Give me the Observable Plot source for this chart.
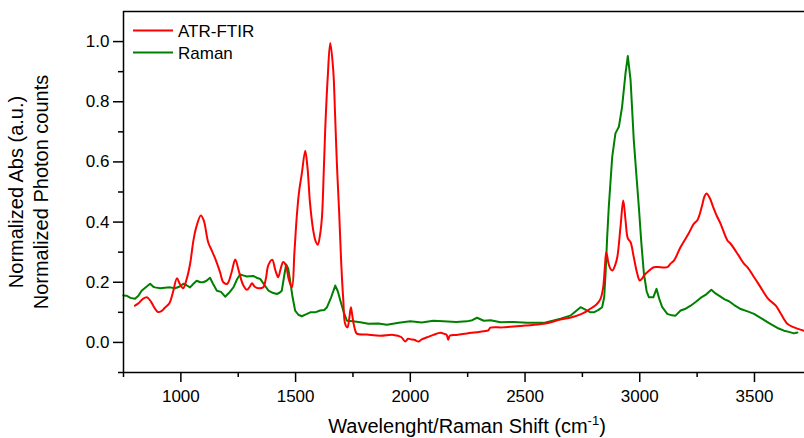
<!DOCTYPE html>
<html>
<head>
<meta charset="utf-8">
<script src="https://cdn.jsdelivr.net/npm/d3@7"></script>
<script src="https://cdn.jsdelivr.net/npm/@observablehq/plot@0.6"></script>
<style>
  html, body { margin: 0; padding: 0; background: #fff; }
  #chart svg { display: block; }
</style>
</head>
<body>
<div id="chart"></div>
<script>
const seriesNames = ["ATR-FTIR", "Raman"];
const seriesColors = ["#ff0000", "#008000"];

const ftirX = [800,815,835,852,870,885,900,915,930,950,965,983,995,1010,1025,1040,1055,1066,1087,1100,1119,1135,1149,1171,1185,1202,1220,1237,1250,1258,1272,1288,1300,1310,1322,1340,1359,1370,1381,1398,1412,1424,1435,1446,1458,1470,1484,1495,1505,1515,1527,1542,1552,1563,1577,1588,1597,1607,1615,1622,1629,1640,1651,1664,1672,1680,1690,1699,1708,1716,1726,1734,1741,1747,1753,1760,1767,1811,1869,1926,1960,1978,1990,2005,2020,2035,2050,2073,2100,2131,2150,2158,2165,2172,2200,2247,2290,2320,2340,2349,2400,2436,2500,2581,2655,2700,2727,2760,2785,2810,2829,2840,2848,2854,2864,2872,2881,2892,2902,2916,2928,2938,2948,2960,2974,2989,3000,3010,3018,3040,3061,3090,3120,3134,3149,3178,3213,3236,3251,3270,3282,3291,3305,3320,3338,3352,3382,3396,3430,3454,3469,3500,3527,3560,3593,3615,3643,3672,3690,3716];
const ftirY = [0.122,0.13,0.145,0.15,0.135,0.115,0.101,0.104,0.115,0.13,0.165,0.213,0.195,0.18,0.21,0.26,0.34,0.38,0.422,0.405,0.333,0.305,0.28,0.233,0.2,0.195,0.23,0.276,0.245,0.222,0.19,0.175,0.185,0.197,0.185,0.18,0.183,0.21,0.256,0.275,0.24,0.217,0.245,0.267,0.255,0.21,0.183,0.3,0.417,0.5,0.56,0.637,0.58,0.462,0.372,0.335,0.325,0.36,0.417,0.55,0.705,0.88,0.995,0.906,0.76,0.595,0.43,0.262,0.14,0.062,0.05,0.08,0.117,0.09,0.062,0.04,0.029,0.026,0.022,0.025,0.018,0.003,0.012,0.01,0.008,0.003,0.01,0.017,0.025,0.032,0.028,0.026,0.009,0.022,0.025,0.03,0.034,0.037,0.04,0.049,0.05,0.052,0.056,0.062,0.076,0.083,0.089,0.1,0.112,0.125,0.145,0.18,0.25,0.30,0.262,0.245,0.239,0.255,0.283,0.383,0.472,0.406,0.346,0.333,0.283,0.229,0.206,0.212,0.222,0.238,0.25,0.25,0.25,0.262,0.272,0.317,0.362,0.395,0.406,0.45,0.485,0.495,0.48,0.45,0.417,0.395,0.339,0.328,0.29,0.262,0.25,0.215,0.183,0.145,0.122,0.095,0.062,0.05,0.045,0.039];

const ramanX = [749,765,780,800,815,829,850,866,880,887,910,930,953,975,995,1011,1025,1040,1055,1069,1085,1098,1112,1127,1140,1157,1175,1193,1210,1229,1245,1258,1275,1288,1300,1316,1330,1346,1365,1382,1400,1418,1430,1440,1450,1459,1468,1476,1487,1498,1512,1527,1545,1564,1585,1607,1625,1637,1655,1673,1684,1695,1710,1724,1750,1782,1817,1860,1898,1950,2000,2050,2100,2144,2200,2247,2270,2291,2320,2350,2393,2450,2509,2581,2620,2655,2700,2742,2765,2785,2800,2820,2836,2845,2851,2858,2865,2880,2894,2909,2923,2938,2948,2960,2974,2985,2996,3007,3018,3030,3040,3059,3073,3085,3098,3120,3140,3156,3178,3200,3222,3245,3265,3290,3312,3330,3352,3370,3389,3410,3440,3470,3498,3530,3571,3600,3629,3650,3672,3687];
const ramanY = [0.156,0.155,0.148,0.145,0.155,0.172,0.185,0.195,0.185,0.183,0.18,0.182,0.183,0.18,0.186,0.195,0.19,0.183,0.195,0.205,0.2,0.2,0.205,0.215,0.195,0.172,0.168,0.152,0.165,0.183,0.21,0.226,0.222,0.219,0.22,0.221,0.215,0.211,0.19,0.172,0.165,0.161,0.165,0.172,0.22,0.259,0.245,0.206,0.15,0.106,0.092,0.087,0.093,0.1,0.1,0.106,0.108,0.117,0.15,0.189,0.17,0.139,0.1,0.072,0.07,0.067,0.062,0.063,0.059,0.065,0.07,0.066,0.072,0.07,0.068,0.07,0.074,0.082,0.072,0.074,0.067,0.068,0.065,0.065,0.072,0.079,0.09,0.117,0.108,0.1,0.1,0.108,0.117,0.15,0.229,0.35,0.45,0.617,0.695,0.717,0.783,0.895,0.952,0.872,0.672,0.56,0.45,0.33,0.229,0.17,0.15,0.15,0.178,0.145,0.117,0.095,0.09,0.089,0.106,0.112,0.122,0.135,0.148,0.16,0.175,0.163,0.152,0.143,0.137,0.125,0.111,0.103,0.095,0.08,0.061,0.048,0.039,0.035,0.03,0.033];

const xMajorTicks = [1000,1500,2000,2500,3000,3500];
const xMinorTicks = [750,1250,1750,2250,2750,3250];
const yMajorTicks = [0.0,0.2,0.4,0.6,0.8,1.0];
const yMinorTicks = [-0.1,0.1,0.3,0.5,0.7,0.9];
const xLabel = "Wavelenght/Raman Shift (cm";
const xLabelSup = "-1";
const yLabelLines = ["Normalized Abs (a.u.)", "Normalized Photon counts"];

const ftir = ftirX.map((x, i) => ({x, y: ftirY[i], s: seriesNames[0]}));
const raman = ramanX.map((x, i) => ({x, y: ramanY[i], s: seriesNames[1]}));

const font = "'Liberation Sans', Arial, sans-serif";
const W = 804, H = 438;
const mL = 123, mR = 0, mT = 11, mB = 66;

const plot = Plot.plot({
  width: W, height: H,
  marginLeft: mL, marginRight: mR, marginTop: mT, marginBottom: mB,
  style: {fontFamily: font, fontSize: "17px", color: "#000", background: "#fff", overflow: "visible"},
  x: {domain: [750, 3718]},
  y: {domain: [-0.1, 1.1]},
  marks: [
    Plot.line(raman, {x: "x", y: "y", stroke: seriesColors[1], strokeWidth: 2, curve: "linear"}),
    Plot.line(ftir, {x: "x", y: "y", stroke: seriesColors[0], strokeWidth: 2, curve: "catmull-rom"}),
    Plot.ruleY([1.1], {stroke: "#000", strokeWidth: 1.5}),
    Plot.ruleY([-0.1], {stroke: "#000", strokeWidth: 1.5}),
    Plot.ruleX([750], {stroke: "#000", strokeWidth: 1.5}),
    Plot.axisX({ticks: xMajorTicks, tickSize: 10, tickPadding: 7, fontSize: 17, strokeWidth: 1.5, label: null, tickFormat: d3.format("d")}),
    Plot.axisX({ticks: xMinorTicks, tickSize: 5, tickFormat: null, text: null, strokeWidth: 1.5, label: null}),
    Plot.axisY({ticks: yMajorTicks, tickSize: 10, tickPadding: 4, fontSize: 17, strokeWidth: 1.5, label: null, tickFormat: d3.format(".1f")}),
    Plot.axisY({ticks: yMinorTicks, tickSize: 5, text: null, tickFormat: null, strokeWidth: 1.5, label: null})
  ]
});

const svg = d3.select(plot);
// x-axis title
const xt = svg.append("text")
  .attr("x", 467).attr("y", 433)
  .attr("text-anchor", "middle")
  .attr("font-family", font).attr("font-size", 20).attr("fill", "#000");
xt.append("tspan").text(xLabel);
xt.append("tspan").attr("dy", -8).attr("font-size", 13).text(xLabelSup);
xt.append("tspan").attr("dy", 8).text(")");

// y-axis title (two lines)
yLabelLines.forEach((t, i) => {
  svg.append("text")
    .attr("transform", `translate(${23 + i * 25},192) rotate(-90)`)
    .attr("text-anchor", "middle")
    .attr("font-family", font).attr("font-size", 20).attr("fill", "#000")
    .text(t);
});

// legend
seriesNames.forEach((name, i) => {
  const yy = 30.5 + i * 22;
  svg.append("line").attr("x1", 133).attr("x2", 173).attr("y1", yy).attr("y2", yy)
    .attr("stroke", seriesColors[i]).attr("stroke-width", 2);
  svg.append("text").attr("x", 178).attr("y", yy + 6.2)
    .attr("text-anchor", "start")
    .attr("font-family", font).attr("font-size", 17).attr("fill", "#000")
    .text(name);
});

document.getElementById("chart").appendChild(plot);
</script>
</body>
</html>
